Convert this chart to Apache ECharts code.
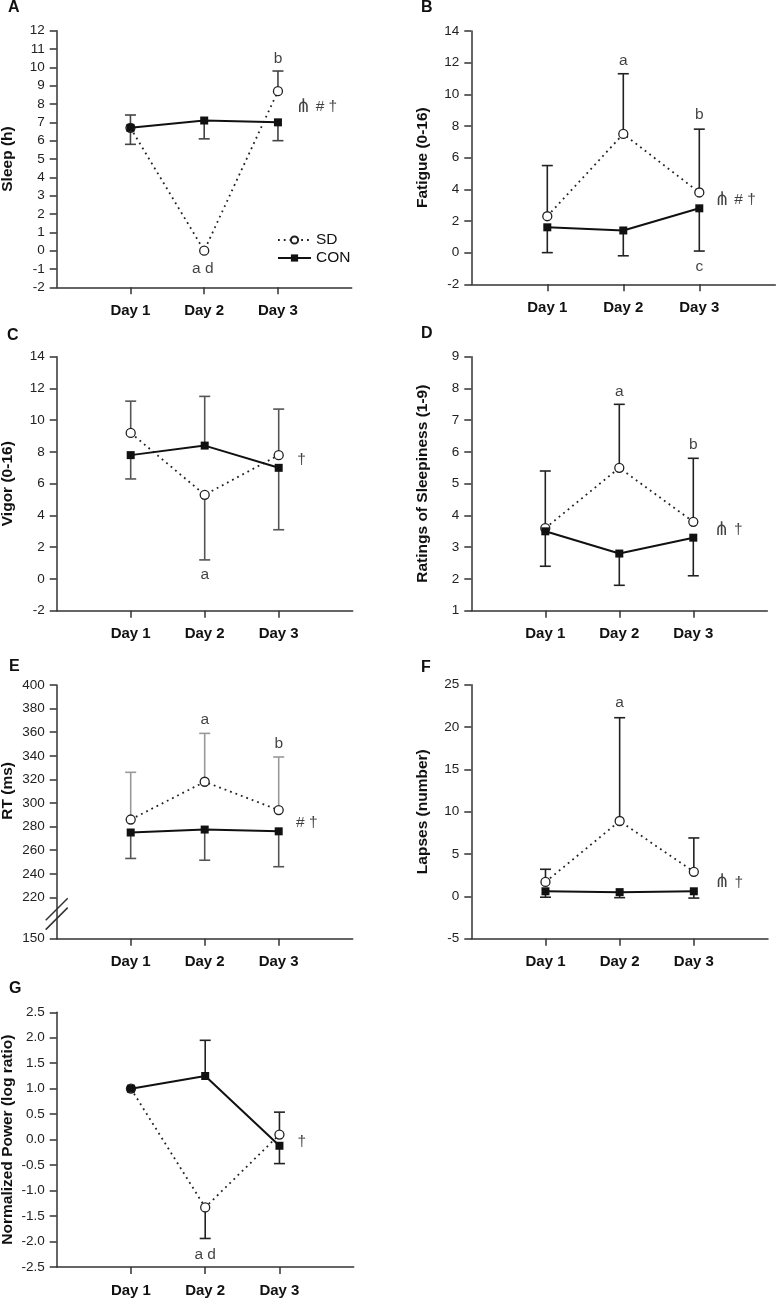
<!DOCTYPE html>
<html>
<head>
<meta charset="utf-8">
<script src="https://cdn.jsdelivr.net/npm/echarts@6/dist/echarts.min.js"></script>
<style>
  html, body { margin: 0; padding: 0; background: #fff; }
  #main { width: 777px; height: 1299px; }
</style>
</head>
<body>
<div id="main"></div>
<script>
const days = [1, 2, 3];

// A: sleep (h)
const sleepSD = [6.7, 0, 8.7];
const sleepSDEnd = [7.4, null, 9.8];
const sleepCON = [6.7, 7.1, 7.0];
const sleepCONEnd = [5.8, 6.1, 6.0];

// B: fatigue (0-16)
const fatigueSD = [2.3, 7.5, 3.8];
const fatigueSDEnd = [5.5, 11.3, 7.8];
const fatigueCON = [1.6, 1.4, 2.8];
const fatigueCONEnd = [0, -0.2, 0.1];

// C: vigor (0-16)
const vigorSD = [9.2, 5.3, 7.8];
const vigorSDEnd = [11.2, 1.2, 10.7];
const vigorCON = [7.8, 8.4, 7.0];
const vigorCONEnd = [6.3, 11.5, 3.1];

// D: ratings of sleepiness (1-9)
const sleepinessSD = [3.6, 5.5, 3.8];
const sleepinessSDEnd = [5.4, 7.5, 5.8];
const sleepinessCON = [3.5, 2.8, 3.3];
const sleepinessCONEnd = [2.4, 1.8, 2.1];

// E: RT (ms)
const rtSD = [286, 318, 294];
const rtSDEnd = [326, 359, 339];
const rtCON = [275, 277.5, 276];
const rtCONEnd = [253, 251.5, 246];
const rtTicks = [185, 220, 240, 260, 280, 300, 320, 340, 360, 380, 400];

// F: lapses (number)
const lapsesSD = [1.7, 8.9, 2.9];
const lapsesSDEnd = [3.2, 21.1, 6.9];
const lapsesCON = [0.6, 0.5, 0.6];
const lapsesCONEnd = [-0.1, -0.15, -0.2];

// G: normalized power (log ratio)
const powerSD = [1.0, -1.33, 0.1];
const powerSDEnd = [null, -1.94, 0.54];
const powerCON = [1.0, 1.25, -0.12];
const powerCONEnd = [null, 1.95, -0.47];

const FONT = '"Liberation Sans", Arial, "DejaVu Sans", sans-serif';
const AXIS_COLOR = '#333';

const panels = [
  {
    letter: 'A', yName: 'Sleep (h)', pos: [56.7, 30.7, 295, 256.6], letterPos: [8, 0],
    min: -2, max: 12, interval: 1,
    sd: sleepSD, sdEnd: sleepSDEnd, con: sleepCON, conEnd: sleepCONEnd, barColors: ['#444', '#444'],
    notes: [[1.98, -1.0, 'a d'], [3, 10.45, 'b'], [3.52, 7.85, '⋔ # †']],
  },
  {
    letter: 'B', yName: 'Fatigue (0-16)', pos: [471.3, 31, 304, 253.3], letterPos: [421, 0],
    min: -2, max: 14, interval: 2,
    sd: fatigueSD, sdEnd: fatigueSDEnd, con: fatigueCON, conEnd: fatigueCONEnd, barColors: ['#222', '#222'],
    notes: [[2, 12.1, 'a'], [3, 8.7, 'b'], [3, -0.9, 'c'], [3.47, 3.35, '⋔ # †']],
  },
  {
    letter: 'C', yName: 'Vigor (0-16)', pos: [56.7, 356.7, 296, 254], letterPos: [7, 328],
    min: -2, max: 14, interval: 2,
    sd: vigorSD, sdEnd: vigorSDEnd, con: vigorCON, conEnd: vigorCONEnd, barColors: ['#555', '#555'],
    notes: [[2, 0.25, 'a'], [3.31, 7.5, '†']],
  },
  {
    letter: 'D', yName: 'Ratings of Sleepiness (1-9)', pos: [471.3, 356.7, 296, 254], letterPos: [421, 326],
    min: 1, max: 9, interval: 1,
    sd: sleepinessSD, sdEnd: sleepinessSDEnd, con: sleepinessCON, conEnd: sleepinessCONEnd, barColors: ['#222', '#222'],
    notes: [[2, 7.9, 'a'], [3, 6.24, 'b'], [3.47, 3.55, '⋔ †']],
  },
  {
    letter: 'E', yName: 'RT (ms)', pos: [56.7, 685, 296, 253.7], letterPos: [9, 659], namePad: 42,
    min: 185, max: 400, ticks: rtTicks,
    sd: rtSD, sdEnd: rtSDEnd, con: rtCON, conEnd: rtCONEnd, barColors: ['#999', '#555'],
    notes: [[2, 370.5, 'a'], [3, 350.5, 'b'], [3.38, 283, '# †']],
  },
  {
    letter: 'F', yName: 'Lapses (number)', pos: [471.3, 684.7, 296.7, 254], letterPos: [421, 660],
    min: -5, max: 25, interval: 5,
    sd: lapsesSD, sdEnd: lapsesSDEnd, con: lapsesCON, conEnd: lapsesCONEnd, barColors: ['#222', '#222'],
    notes: [[2, 22.9, 'a'], [3.47, 1.65, '⋔ †']],
  },
  {
    letter: 'G', yName: 'Normalized Power (log ratio)', pos: [56.7, 1012.3, 297, 254.7], letterPos: [9, 981],
    min: -2.5, max: 2.5, interval: 0.5, decimals: 1,
    sd: powerSD, sdEnd: powerSDEnd, con: powerCON, conEnd: powerCONEnd, barColors: ['#222', '#222'],
    notes: [[2, -2.25, 'a d'], [3.3, -0.05, '†']],
  },
];

function errorBars(means, ends) {
  return days
    .map((d, i) => (ends[i] == null ? null : [d, means[i], ends[i]]))
    .filter((v) => v);
}

function errorBarRenderer(color) {
  return function (params, api) {
    const p0 = api.coord([api.value(0), api.value(1)]);
    const p1 = api.coord([api.value(0), api.value(2)]);
    const style = { stroke: color, lineWidth: 1.6 };
    return {
      type: 'group',
      children: [
        { type: 'line', shape: { x1: p0[0], y1: p0[1], x2: p1[0], y2: p1[1] }, style },
        { type: 'line', shape: { x1: p1[0] - 5.5, y1: p1[1], x2: p1[0] + 5.5, y2: p1[1] }, style },
      ],
    };
  };
}

const titles = [];
const grids = [];
const xAxes = [];
const yAxes = [];
const series = [];

panels.forEach((p, i) => {
  titles.push({
    text: p.letter,
    left: p.letterPos[0],
    top: p.letterPos[1],
    padding: 0,
    textStyle: { fontFamily: FONT, fontSize: 16, fontWeight: 'bold', color: '#111' },
  });
  grids.push({
    left: p.pos[0], top: p.pos[1], width: p.pos[2], height: p.pos[3],
    containLabel: false, outerBoundsMode: 'none',
  });
  xAxes.push({
    gridIndex: i,
    type: 'value',
    min: 0,
    max: 4,
    splitLine: { show: false },
    axisLine: { show: true, onZero: false, lineStyle: { color: AXIS_COLOR, width: 1.5 } },
    axisTick: { show: true, length: 7, customValues: days, lineStyle: { color: AXIS_COLOR, width: 1.5 } },
    axisLabel: {
      customValues: days,
      formatter: (v) => 'Day ' + v,
      margin: 16,
      fontFamily: FONT, fontSize: 15, fontWeight: 'bold', color: '#111',
    },
  });
  const y = {
    gridIndex: i,
    type: 'value',
    min: p.min,
    max: p.max,
    name: p.yName,
    nameLocation: 'middle',
    nameGap: 41,
    nameTextStyle: {
      fontFamily: FONT, fontSize: 15.5, fontWeight: 'bold', color: '#111',
      padding: p.namePad ? [0, 0, 0, p.namePad] : 0,
    },
    splitLine: { show: false },
    axisLine: { show: true, onZero: false, lineStyle: { color: AXIS_COLOR, width: 1.5 } },
    axisTick: { show: true, length: 7, lineStyle: { color: AXIS_COLOR, width: 1.5 } },
    axisLabel: {
      margin: 12,
      fontFamily: FONT, fontSize: 13.5, color: '#222',
      formatter: (v) => (p.decimals ? v.toFixed(p.decimals) : String(v)),
    },
  };
  if (p.ticks) {
    y.axisTick.customValues = p.ticks;
    y.axisLabel.customValues = p.ticks;
    y.axisLabel.formatter = (v) => (v === p.min ? '150' : String(v));
  } else {
    y.interval = p.interval;
  }
  yAxes.push(y);

  series.push({
    name: 'sd-err-' + i,
    type: 'custom',
    xAxisIndex: i, yAxisIndex: i,
    renderItem: errorBarRenderer(p.barColors[0]),
    encode: { x: 0, y: [1, 2] },
    data: errorBars(p.sd, p.sdEnd),
    z: 1,
  });
  series.push({
    name: 'con-err-' + i,
    type: 'custom',
    xAxisIndex: i, yAxisIndex: i,
    renderItem: errorBarRenderer(p.barColors[1]),
    encode: { x: 0, y: [1, 2] },
    data: errorBars(p.con, p.conEnd),
    z: 1,
  });
  series.push({
    name: 'SD',
    type: 'line',
    xAxisIndex: i, yAxisIndex: i,
    data: days.map((d, k) => [d, p.sd[k]]),
    symbol: 'circle',
    symbolSize: 9,
    showSymbol: true,
    lineStyle: { color: '#222', width: 1.8, type: [1.8, 4] },
    itemStyle: { color: '#fff', borderColor: '#222', borderWidth: 1.3 },
    z: 2,
  });
  series.push({
    name: 'CON',
    type: 'line',
    xAxisIndex: i, yAxisIndex: i,
    data: days.map((d, k) => [d, p.con[k]]),
    symbol: 'rect',
    symbolSize: 8,
    showSymbol: true,
    lineStyle: { color: '#111', width: 2 },
    itemStyle: { color: '#111' },
    z: 3,
  });
  series.push({
    name: 'notes-' + i,
    type: 'scatter',
    xAxisIndex: i, yAxisIndex: i,
    data: p.notes,
    symbolSize: 0,
    itemStyle: { color: 'transparent' },
    label: {
      show: true,
      position: 'inside',
      formatter: (d) => d.data[2].replace('⋔', '{s|⋔}'),
      fontFamily: FONT, fontSize: 15.5, color: '#111',
      rich: { s: { fontFamily: '"DejaVu Sans", sans-serif', fontSize: 19, color: '#111' } },
    },
    silent: true,
    z: 4,
  });
});

const chart = echarts.init(document.getElementById('main'), null, { renderer: 'canvas' });
chart.setOption({
  animation: false,
  backgroundColor: '#fff',
  title: titles,
  grid: grids,
  xAxis: xAxes,
  yAxis: yAxes,
  legend: {
    data: ['SD', 'CON'],
    orient: 'vertical',
    left: 272,
    top: 227,
    itemWidth: 33,
    itemHeight: 9,
    itemGap: 2,
    selectedMode: false,
    textStyle: { fontFamily: FONT, fontSize: 15.5, color: '#111' },
  },
  series: series,
});

// axis break marks on panel E, placed from the axis scale
const breakValues = [210, 202];
const breakMarks = breakValues.map((v) => {
  const c = chart.convertToPixel({ gridIndex: 4 }, [0, v]);
  return {
    type: 'line',
    shape: { x1: c[0] - 11, y1: c[1] + 11, x2: c[0] + 11, y2: c[1] - 11 },
    style: { stroke: AXIS_COLOR, lineWidth: 1.5 },
    z: 10,
  };
});
chart.setOption({ graphic: breakMarks });
</script>
</body>
</html>
